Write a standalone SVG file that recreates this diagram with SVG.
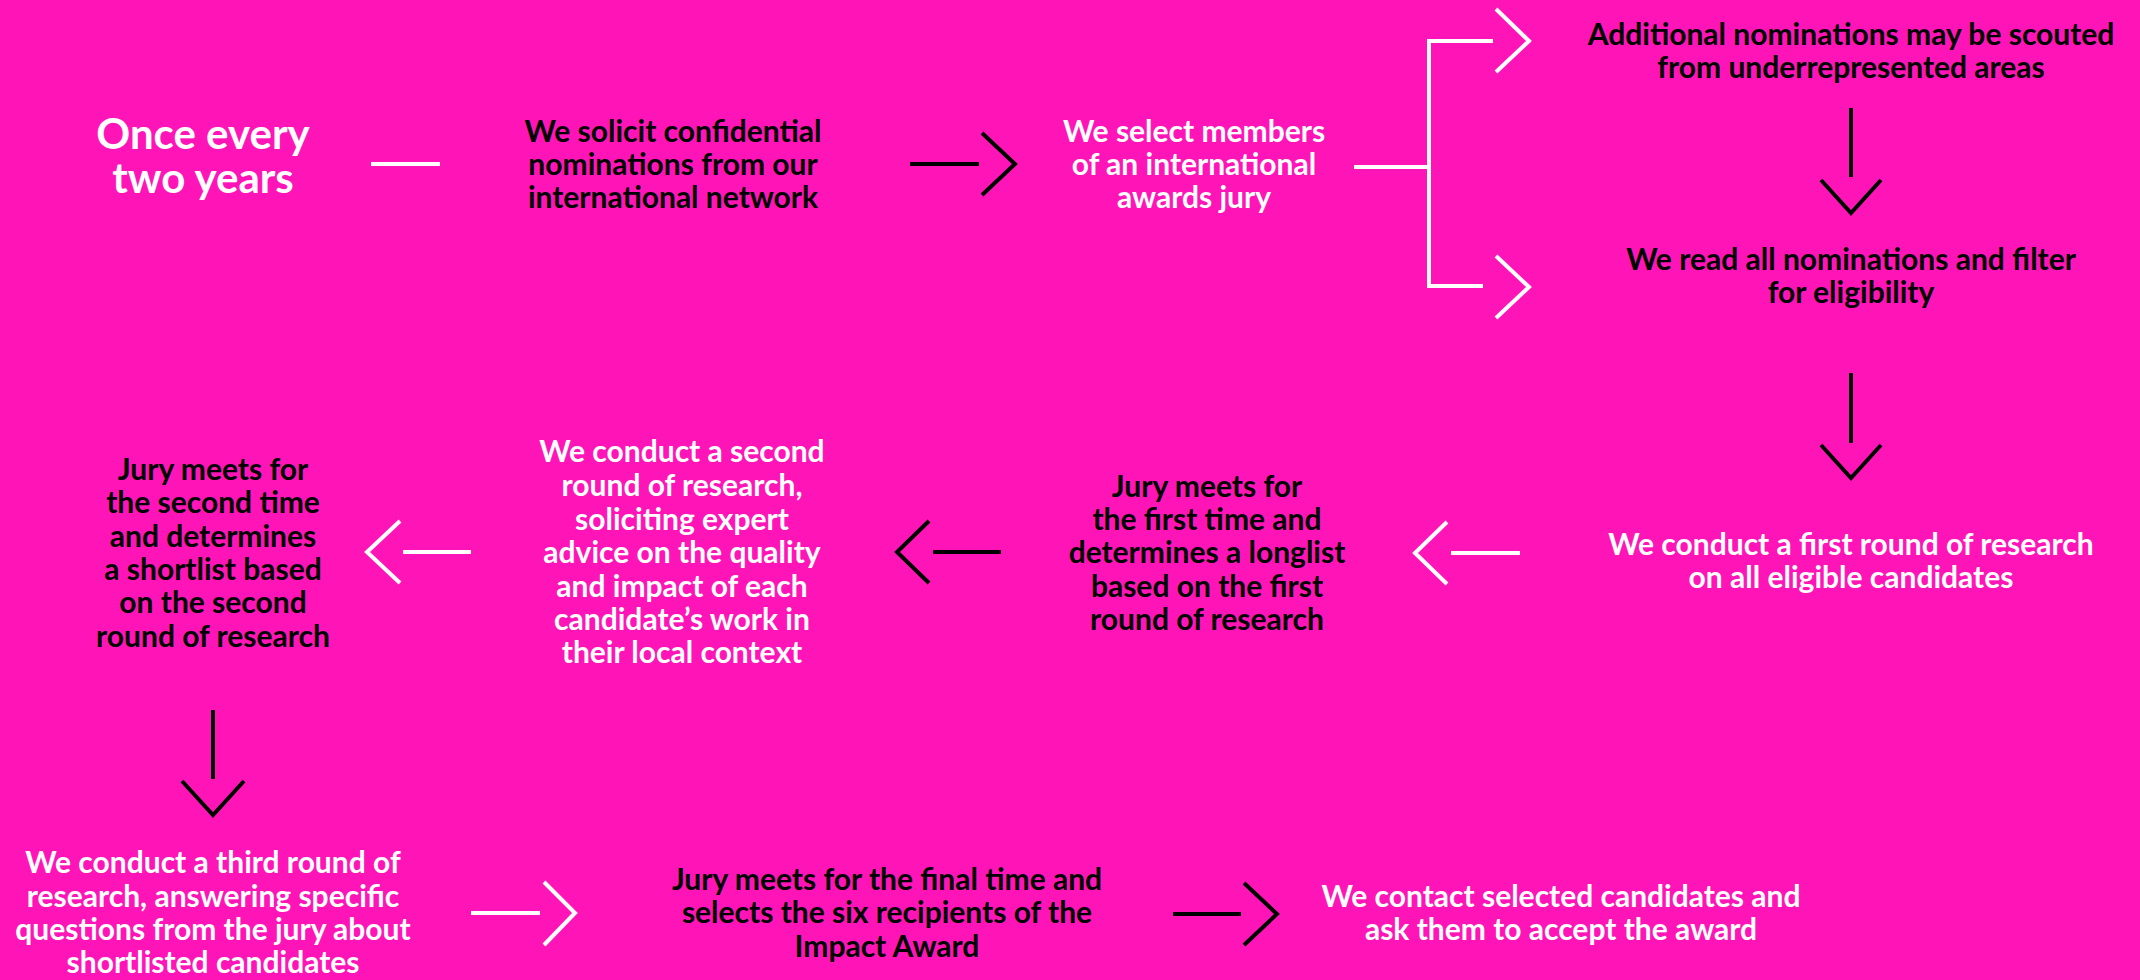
<svg xmlns="http://www.w3.org/2000/svg" width="2140" height="980" viewBox="0 0 2140 980">
<style>
text{font-family:Lato,"Open Sans","Liberation Sans",sans-serif;font-weight:700;font-size:30px;text-anchor:middle}
.w{fill:#ffffff}
.b{fill:#000000}
.big{font-size:42px}
.lw{stroke:#ffffff;stroke-width:4;fill:none}
.lb{stroke:#000000;stroke-width:4;fill:none}
</style>
<rect x="0" y="0" width="2140" height="980" fill="#FF15B7"/>
<g id="connectors">
  <line class="lw" x1="371" y1="164" x2="440" y2="164"/>
  <path class="lb" d="M910 164H979M982 133L1015 164L982 195"/>
  <path class="lw" d="M1354 167H1429M1429 41V286M1427 41H1493M1427 286H1483M1496 9L1529 41L1496 72M1496 256L1529 287L1496 318"/>
  <path class="lb" d="M1851 108V177M1821 180L1851 213L1881 180"/>
  <path class="lb" d="M1851 373V443M1821 445L1851 478L1881 445"/>
  <path class="lw" d="M1451 553H1520M1447 522L1415 553L1447 584"/>
  <path class="lb" d="M933 552H1001M929 521L897 552L929 583"/>
  <path class="lw" d="M403 552H471M400 521L367 552L400 583"/>
  <path class="lb" d="M213 710V779M182 781L213 815L244 781"/>
  <path class="lw" d="M471 913H540M544 882L575 913L544 945"/>
  <path class="lb" d="M1173 914H1241M1244 883L1277 914L1244 945"/>
</g>
<g id="start"><text class="w big"><tspan x="203" y="149">Once every</tspan><tspan x="203" y="193">two years</tspan></text></g>
<g id="n1"><text class="b"><tspan x="673" y="142">We solicit confidential</tspan><tspan x="673" y="175">nominations from our</tspan><tspan x="673" y="208">international network</tspan></text></g>
<g id="n2"><text class="w"><tspan x="1194" y="142">We select members</tspan><tspan x="1194" y="175">of an international</tspan><tspan x="1194" y="208">awards jury</tspan></text></g>
<g id="n3"><text class="b"><tspan x="1851" y="45">Additional nominations may be scouted</tspan><tspan x="1851" y="78">from underrepresented areas</tspan></text></g>
<g id="n4"><text class="b"><tspan x="1851" y="270">We read all nominations and filter</tspan><tspan x="1851" y="303">for eligibility</tspan></text></g>
<g id="n5"><text class="w"><tspan x="1851" y="555">We conduct a first round of research</tspan><tspan x="1851" y="588">on all eligible candidates</tspan></text></g>
<g id="n6"><text class="b"><tspan x="1207" y="497">Jury meets for</tspan><tspan x="1207" y="530">the first time and</tspan><tspan x="1207" y="563">determines a longlist</tspan><tspan x="1207" y="597">based on the first</tspan><tspan x="1207" y="630">round of research</tspan></text></g>
<g id="n7"><text class="w"><tspan x="682" y="462">We conduct a second</tspan><tspan x="682" y="496">round of research,</tspan><tspan x="682" y="530">soliciting expert</tspan><tspan x="682" y="563">advice on the quality</tspan><tspan x="682" y="597">and impact of each</tspan><tspan x="682" y="630">candidate’s work in</tspan><tspan x="682" y="663">their local context</tspan></text></g>
<g id="n8"><text class="b"><tspan x="213" y="480">Jury meets for</tspan><tspan x="213" y="513">the second time</tspan><tspan x="213" y="547">and determines</tspan><tspan x="213" y="580">a shortlist based</tspan><tspan x="213" y="613">on the second</tspan><tspan x="213" y="647">round of research</tspan></text></g>
<g id="n9"><text class="w"><tspan x="213" y="873">We conduct a third round of</tspan><tspan x="213" y="907">research, answering specific</tspan><tspan x="213" y="940">questions from the jury about</tspan><tspan x="213" y="973">shortlisted candidates</tspan></text></g>
<g id="n10"><text class="b"><tspan x="887" y="890">Jury meets for the final time and</tspan><tspan x="887" y="923">selects the six recipients of the</tspan><tspan x="887" y="957">Impact Award</tspan></text></g>
<g id="n11"><text class="w"><tspan x="1561" y="907">We contact selected candidates and</tspan><tspan x="1561" y="940">ask them to accept the award</tspan></text></g>
</svg>
